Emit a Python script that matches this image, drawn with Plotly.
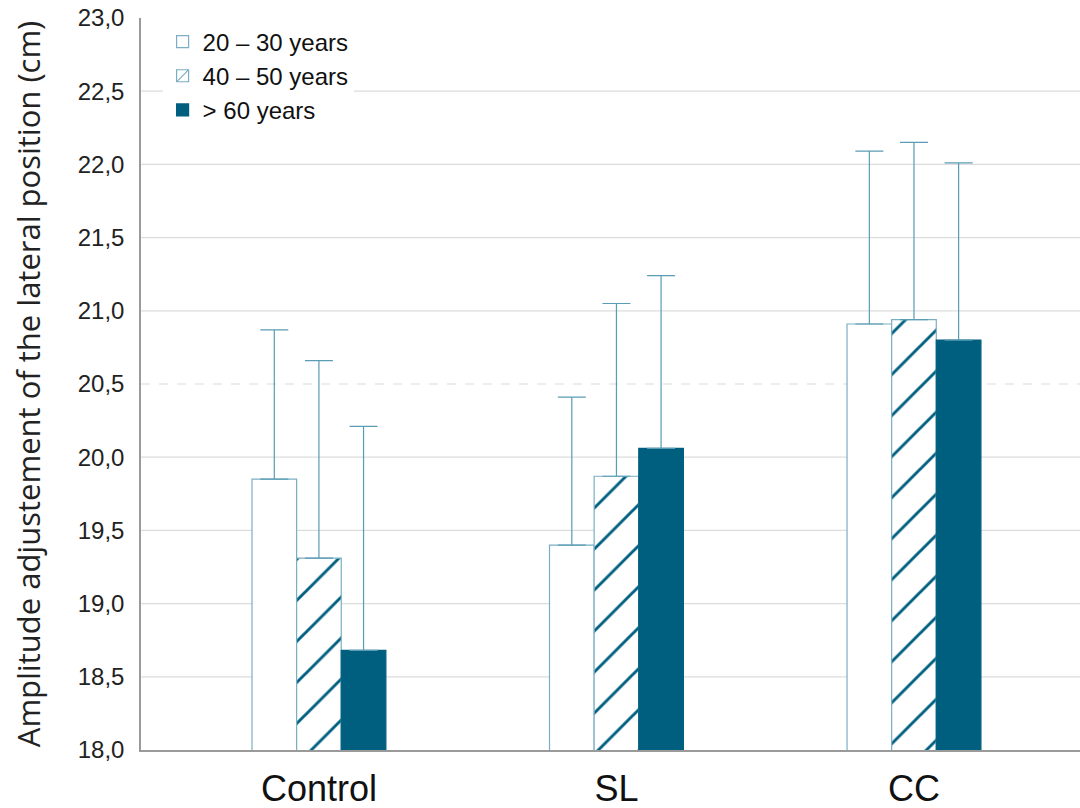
import plotly.graph_objects as go

categories = ["Control", "SL", "CC"]
series_names = ["20 – 30 years", "40 – 50 years", "> 60 years"]
means_20_30 = [19.85, 19.40, 20.91]
means_40_50 = [19.31, 19.87, 20.94]
means_60 = [18.68, 20.06, 20.80]
err_20_30 = [1.02, 1.01, 1.18]
err_40_50 = [1.35, 1.18, 1.21]
err_60 = [1.53, 1.18, 1.21]
y_ticks = [18.0, 18.5, 19.0, 19.5, 20.0, 20.5, 21.0, 21.5, 22.0, 22.5, 23.0]
dashed_grid = [20.5]

DARK = "#005f7f"
LIGHT = "#7aafc3"
ERR = "#5a9cb4"

fig = go.Figure()

def add(name, y, err, fill, line, pattern=None):
    marker = dict(color=fill, line=dict(color=line, width=1.2))
    if pattern:
        marker["pattern"] = pattern
    fig.add_trace(go.Bar(
        x=categories, y=y, name=name, marker=marker,
        error_y=dict(type="data", array=err, arrayminus=[0] * len(err),
                     symmetric=False, color=ERR, thickness=1.2, width=14),
    ))

add(series_names[0], means_20_30, err_20_30, "white", LIGHT)
add(series_names[1], means_40_50, err_40_50, "white", LIGHT,
    dict(shape="/", fgcolor=DARK, bgcolor="white", fgopacity=1,
         fillmode="overlay", size=29, solidity=0.1))
add(series_names[2], means_60, err_60, DARK, DARK)

shapes = []
for v in y_ticks[1:-1]:
    shapes.append(dict(type="line", xref="paper", x0=0, x1=1, yref="y", y0=v, y1=v,
                       layer="below",
                       line=dict(color="#dcdcdc", width=1.2,
                                 dash="dash" if v in dashed_grid else "solid")))

fig.update_layout(
    width=1080, height=808,
    margin=dict(l=141, r=0, t=18, b=58),
    plot_bgcolor="white", paper_bgcolor="white",
    barmode="group", bargap=0.55, bargroupgap=0,
    separators=",.",
    shapes=shapes,
    showlegend=True,
    legend=dict(x=0.023, y=0.998, xanchor="left", yanchor="top",
                bgcolor="white", font=dict(family="Liberation Sans, Arial", size=24, color="#111"),
                itemwidth=30, tracegroupgap=0, borderwidth=0),
    xaxis=dict(range=[-0.598, 2.558], showgrid=False, showline=True, automargin=False,
               linecolor="#9a9a9a", linewidth=1.5, ticks="",
               tickfont=dict(family="Liberation Sans, Arial", size=36, color="#111"),
               ticklabelstandoff=6),
    yaxis=dict(range=[18, 23], tickvals=y_ticks, tickformat=".1f", showgrid=False,
               showline=True, linecolor="#9a9a9a", linewidth=1.5, ticks="",
               ticklabelstandoff=10, zeroline=False, automargin=False,
               ticklabeloverflow="allow",
               tickfont=dict(family="Liberation Sans, Arial", size=24, color="#222"),
               title=dict(text="Amplitude adjustement of the lateral position (cm)",
                          font=dict(family="Open Sans, Noto Sans", size=31, color="#222"),
                          standoff=28)),
)

fig.write_html("out.html", config={"displayModeBar": False},
               post_script="document.body.style.margin='0';")
